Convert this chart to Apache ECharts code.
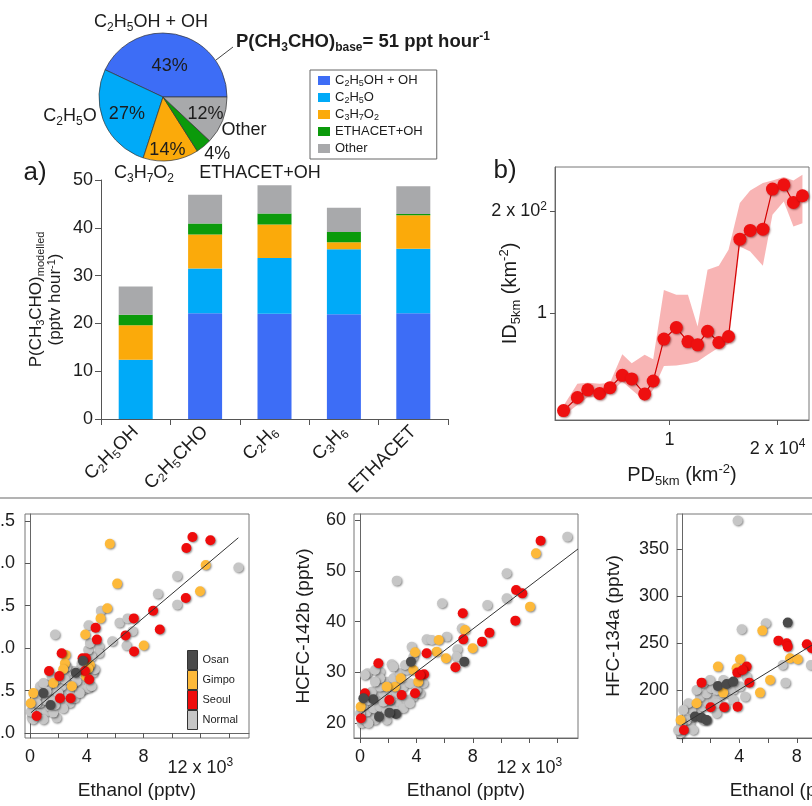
<!DOCTYPE html>
<html>
<head>
<meta charset="utf-8">
<script src="https://cdn.jsdelivr.net/npm/echarts@6.0.0/dist/echarts.min.js"></script>
<style>
html,body{margin:0;padding:0;background:#fff;}
#chart{width:812px;height:806px;}
</style>
</head>
<body>
<div id="chart"></div>
<script>
// ================= DATA =================
// Pie: contributions to base-case P(CH3CHO)
const pieNames = ['C2H5OH + OH', 'C2H5O', 'C3H7O2', 'ETHACET+OH', 'Other'];
const pieShares = [43, 27, 14, 4, 12];
const pBase = 51;

// a) stacked bars
const barCategories = ['C2H5OH', 'C2H5CHO', 'C2H6', 'C3H6', 'ETHACET'];
const barC2H5OH_OH = [0, 22.1, 22.0, 21.9, 22.1];
const barC2H5O = [12.4, 9.4, 11.7, 13.6, 13.5];
const barC3H7O2 = [7.2, 7.1, 7.0, 1.5, 7.0];
const barETHACET_OH = [2.2, 2.3, 2.3, 2.1, 0.3];
const barOther = [5.9, 6.0, 5.9, 5.1, 5.8];

// b) ID5km vs PD5km
const pd5km = [5060, 5530, 5910, 6380, 6820, 7380, 7840, 8520, 9000, 9640, 10440, 11250, 11970, 12760, 13720, 14600, 15700, 16780, 18200, 19360, 20820, 22150, 23470];
const id5km = [51.5, 56.3, 59.3, 57.9, 60.2, 65.5, 63.9, 57.7, 63.0, 83.8, 90.7, 82.4, 80.6, 88.4, 81.9, 85.3, 165.6, 175.7, 177.3, 232.9, 239.9, 212.7, 222.6];
const id5kmHigh = [53.2, 61.8, 62.3, 61.8, 62.3, 75.6, 71.1, 75.3, 73.1, 117.2, 113.3, 113.3, 91.3, 134.4, 138.1, 154.0, 211.7, 230.8, 242.7, 247.1, 252.8, 247.1, 256.9];
const id5kmLow = [49.7, 53.5, 56.4, 56.4, 58.0, 62.8, 59.3, 55.1, 59.3, 69.8, 70.0, 70.8, 71.9, 75.3, 79.1, 80.9, 157.6, 152.3, 138.1, 195.5, 214.1, 180.5, 184.7];
const bXTicks = [1e4, 2e4];
const bYTicks = [100, 200];

// c) left scatter (ethanol in 10^3 pptv)
const cNormal = [[14.67,1.95],[10.36,1.85],[10.36,1.51],[9.00,1.64],[6.30,1.30],[6.87,1.35],[7.22,1.20],[6.80,1.03],[5.79,1.08],[4.99,1.44],[4.12,1.27],[4.87,1.02],[4.87,0.94],[1.76,1.16],[4.34,0.90],
 [0.12,0.18],[0.35,0.24],[0.59,0.27],[0.23,0.31],[0.82,0.29],[1.17,0.25],[1.41,0.31],[1.87,0.18],[0.70,0.35],[1.05,0.39],[1.64,0.41],[2.11,0.35],[2.46,0.47],[2.81,0.51],[3.28,0.55],[3.51,0.59],[3.75,0.51],[4.10,0.53],[2.81,0.35],[2.23,0.55],[1.41,0.51],[1.87,0.63],[1.29,0.57],[2.69,0.67],[3.05,0.73],[3.51,0.75],[3.87,0.78],[4.10,0.73],[4.45,0.71],[3.28,0.61],[2.46,0.63],[0.70,0.55],[0.47,0.43],[0.94,0.59],[1.99,0.47],[1.52,0.67],[2.58,0.78],[3.63,0.82],[4.57,0.75],[0.23,0.16],[0.94,0.16],[1.64,0.24],[2.34,0.29],[3.16,0.41],[3.51,0.47],[4.34,0.55],[4.10,0.98],[4.22,1.06],[1.17,0.49],[1.76,0.33],[0.47,0.35],[0.05,0.25]];
const cGimpo = [[5.62,2.23],[6.14,1.76],[5.44,1.47],[4.97,1.35],[3.89,1.16],[8.01,1.03],[12.37,1.98],[11.97,1.67],[2.51,0.92],[2.46,0.82],[2.34,0.75],[4.22,0.80],[2.95,0.55],[0.23,0.47],[0.05,0.35],[1.64,0.59],[3.94,0.67],[4.10,0.76]];
const cSeoul = [[11.44,2.31],[12.70,2.27],[11.01,2.18],[10.97,1.59],[8.67,1.44],[9.14,1.22],[7.31,1.35],[6.73,1.15],[7.33,0.96],[4.62,1.24],[4.71,1.10],[2.23,0.94],[1.34,0.73],[2.06,0.67],[3.70,0.88],[3.94,0.88],[3.87,0.73],[4.17,0.63],[2.11,0.41],[2.86,0.41],[0.47,0.20]];
const cOsan = [[0.94,0.47],[1.45,0.33],[3.23,0.71],[3.73,0.85]];
const cFit = [[0.07,0.239],[14.67,2.30]];
const cYTicks = [0, 0.5, 1.0, 1.5, 2.0, 2.5];

// d) HCFC-142b vs ethanol
const dNormal = [[14.69,56.72],[10.39,49.51],[10.39,44.59],[9.02,43.28],[7.21,38.69],[6.14,37.05],[5.81,43.61],[2.60,48.07],[4.72,36.52],[5.08,36.39],[3.66,35.08],[6.90,34.56],[0.52,29.84],[2.24,31.61],[1.42,30.16],[6.85,33.1],[3.78,33.1],
 [0.12,20.0],[0.35,20.66],[0.71,21.31],[1.06,20.66],[1.42,21.64],[1.89,20.66],[0.47,22.30],[0.94,22.95],[1.42,23.28],[1.89,22.62],[2.36,23.28],[2.83,23.93],[3.31,24.59],[3.78,25.25],[4.25,25.90],[0.24,23.61],[0.59,24.59],[1.18,25.25],[1.65,25.90],[2.13,26.56],[2.60,25.90],[3.07,27.21],[3.54,27.87],[0.83,26.23],[1.42,27.21],[1.89,28.20],[2.36,28.85],[2.83,29.84],[3.31,30.49],[1.42,28.85],[1.06,28.20],[2.13,24.59],[2.60,22.30],[3.07,22.95],[3.54,23.93],[4.02,26.56],[4.49,27.87],[0.59,20.0],[0.0,21.97],[1.65,24.26],[0.35,29.5],[1.06,30.49],[2.36,31.15],[3.19,31.48]];
const dGimpo = [[12.47,53.44],[12.05,42.95],[7.44,38.36],[7.98,34.75],[6.09,32.79],[5.58,36.39],[5.43,34.10],[3.90,33.97],[3.78,30.49],[4.13,28.20],[2.48,27.21],[2.88,28.85],[0.05,23.28],[1.89,27.21]];
const dSeoul = [[12.80,55.93],[11.06,46.23],[11.50,45.57],[11.01,40.20],[7.28,41.64],[7.32,36.52],[9.17,37.84],[8.65,36.07],[6.76,31.02],[4.72,33.77],[4.54,29.64],[3.90,25.90],[2.95,25.57],[1.30,31.80],[0.07,20.98],[0.35,25.90],[2.08,24.59],[4.25,29.5]];
const dOsan = [[7.39,32.13],[3.61,32.13],[0.94,24.72],[1.35,21.31],[2.55,21.84],[2.08,22.10],[0.24,24.92]];
const dFit = [[0.07,21.83],[15.45,54.3]];
const dYTicks = [20, 30, 40, 50, 60];

// e) HFC-134a vs ethanol
const eNormal = [[3.88,380.6],[4.16,264.7],[5.84,271.1],[7.02,226.7],[7.21,207.8],[8.98,226.7],[3.35,200],
 [-0.09,153.8],[0.21,159.1],[0.56,164.5],[0.33,168.0],[0.79,171.6],[1.14,176.9],[0.67,178.7],[1.49,182.2],[1.84,185.8],[2.19,189.3],[2.65,192.9],[3.12,196.4],[3.58,200],[4.05,203.6],[1.26,192.9],[1.72,196.4],[2.07,201.8],[2.42,185.8],[1.49,207.1],[1.02,200],[0.44,185.8],[0.09,178.7],[-0.02,164.5],[-0.26,157.3],[0.79,157.3],[1.72,168.0],[2.42,175.1],[3.0,182.2],[3.58,189.3],[4.40,192.9],[4.51,214.2],[2.88,210.7],[1.95,210.7],[2.42,200],[1.49,168]];
const eGimpo = [[5.60,263.3],[7.53,233.8],[8.07,232.7],[6.14,210.7],[5.44,197.2],[4.05,232.7],[3.81,223.1],[2.51,224.9],[2.88,197.2],[1.02,185.8],[-0.09,168.0]];
const eSeoul = [[6.72,252.6],[7.30,249.8],[7.37,246.2],[8.70,248.7],[9.05,244.4],[4.70,207.8],[4.51,224.9],[3.86,218.5],[4.23,221.3],[3.88,182.2],[2.95,181.5],[2.0,181.5],[1.37,207.8],[0.14,157.3]];
const eOsan = [[7.37,271.8],[2.51,204.3],[3.12,206.4],[3.58,208.9],[0.91,171.6],[1.37,170.5],[1.72,168.0]];
const eFit = [[0.0,162.7],[15.0,303.7]];
const eYTicks = [200, 250, 300, 350];

const ethTicks = [0, 2, 4, 6, 8, 10, 12, 14];
const ethLabels = [0, 4, 8, 12];
const groupNames = ['Osan', 'Gimpo', 'Seoul', 'Normal'];

// ================= STYLE =================
const FF = '"Liberation Sans", Arial, Helvetica, sans-serif';
const TXT = '#1c1c1c';
const COLORS = ['#3d6df6', '#00aaf8', '#fbaa0a', '#0b9a0b', '#a8a9ab'];
const GROUP_COLORS = {Normal: '#c6c6c6', Seoul: '#ee0c0c', Gimpo: '#fdb93a', Osan: '#4a4a4a'};
const pieLabelShift = [[-1, 3], [-4, 3], [0, 18], [32, 30], [10, 4]];

function chem(s) { return s.replace(/([A-Z])(\d+)/g, '$1{s|$2}'); }
function R(fs, extra) {
  const o = {fontFamily: FF, color: TXT, fill: TXT, fontSize: Math.round(fs * 0.66), lineHeight: Math.round(fs * 0.75)};
  return {
    s: Object.assign({}, o, {verticalAlign: 'bottom'}, extra || {}),
    u: Object.assign({}, o, {verticalAlign: 'top'}, extra || {})
  };
}
function shiftedRich(fs, P) {
  return {
    e: {fontFamily: FF, color: TXT, fontSize: fs, lineHeight: 22, padding: [P, 0, 0, 0]},
    eu: {fontFamily: FF, color: TXT, fontSize: Math.round(fs * 0.66), lineHeight: 12, verticalAlign: 'top', padding: [Math.round(P / 2), 0, 0, 0]},
    n: {fontFamily: FF, color: TXT, fontSize: fs, lineHeight: 22},
    u: {fontFamily: FF, color: TXT, fontSize: Math.round(fs * 0.66), lineHeight: 12, verticalAlign: 'top'}
  };
}
function gText(x, y, text, fs, opts) {
  opts = opts || {};
  return {
    type: 'text', x: x, y: y, z: 50,
    style: Object.assign({
      text: text, fontSize: fs, fontFamily: FF, fill: TXT,
      lineHeight: Math.round(fs * 1.25),
      align: 'center', verticalAlign: 'middle',
      textAlign: 'center', textVerticalAlign: 'middle',
      rich: R(fs, opts.bold ? {fontWeight: 'bold'} : null)
    }, opts.style || {})
  };
}
const lg = v => Math.log10(v);

// ----- panel b transformed series -----
const bLine = pd5km.map((x, i) => [lg(x), lg(id5km[i])]);
const bLow = pd5km.map((x, i) => [lg(x), lg(id5kmLow[i])]);
const bHigh = pd5km.map((x, i) => [lg(x), lg(id5kmHigh[i])]);

// ----- axes helpers -----
const axisLineStyle = {show: true, lineStyle: {color: '#666', width: 1}};
function ethXAxis(gridIndex, hideZero) {
  return {
    type: 'value', gridIndex: gridIndex,
    axisLine: axisLineStyle,
    axisTick: {show: true, inside: false, length: 5, lineStyle: {color: '#555'}, customValues: ethTicks},
    axisLabel: {
      customValues: ethLabels, margin: 8, fontSize: 18, fontFamily: FF, color: TXT, lineHeight: 22,
      formatter: v => v === 12 ? '{e|12 x 10}{eu|3}' : (hideZero && v === 0 ? '' : '{n|' + v + '}'),
      rich: shiftedRich(18, 22)
    },
    splitLine: {show: false},
    name: 'Ethanol (pptv)', nameLocation: 'middle', nameGap: 43, nameMoveOverlap: false,
    nameTextStyle: {fontSize: 19, fontFamily: FF, color: TXT}
  };
}
function yValAxis(gridIndex, min, max, ticks, fmt, name, nameGap, margin) {
  return {
    type: 'value', gridIndex: gridIndex, min: min, max: max,
    axisLine: axisLineStyle,
    axisTick: {show: true, length: 5, lineStyle: {color: '#555'}, customValues: ticks},
    axisLabel: {customValues: ticks, margin: margin || 8, fontSize: 18, fontFamily: FF, color: TXT, formatter: fmt},
    splitLine: {show: false},
    name: name || '', nameLocation: 'middle', nameGap: nameGap || 40, nameMoveOverlap: false,
    nameTextStyle: {fontSize: 19, fontFamily: FF, color: TXT}
  };
}
function scat(idx, name, data) {
  return {
    type: 'scatter', name: name, xAxisIndex: idx, yAxisIndex: idx, data: data,
    symbol: 'circle', symbolSize: 10, z: 3,
    itemStyle: {color: GROUP_COLORS[name], opacity: 1, shadowColor: 'rgba(0,0,0,0.45)', shadowBlur: 2, shadowOffsetX: 1, shadowOffsetY: 1},
    emphasis: {disabled: true}
  };
}
function fitLine(idx, data) {
  return {type: 'line', xAxisIndex: idx, yAxisIndex: idx, data: data, symbol: 'none', z: 5,
    lineStyle: {color: '#333', width: 1}, emphasis: {disabled: true}, silent: true};
}

const barSeriesData = [barC2H5OH_OH, barC2H5O, barC3H7O2, barETHACET_OH, barOther];

const option = {
  animation: false,
  textStyle: {fontFamily: FF},
  color: COLORS,
  legend: [
    {
      data: pieNames, orient: 'vertical', left: 310, top: 70,
      padding: [3, 14, 3, 8], itemWidth: 12, itemHeight: 9, itemGap: 2,
      borderColor: '#666', borderWidth: 1, icon: 'rect', selectedMode: false,
      formatter: n => chem(n),
      itemStyle: {borderWidth: 0},
      textStyle: {fontSize: 13, fontFamily: FF, color: TXT, lineHeight: 15, rich: R(13)}
    },
    {
      data: groupNames, orient: 'vertical', left: 187, top: 650,
      padding: 0, itemWidth: 10, itemHeight: 19, itemGap: 0, icon: 'rect', selectedMode: false,
      itemStyle: {borderColor: '#333', borderWidth: 1, shadowBlur: 0, shadowOffsetX: 0, shadowOffsetY: 0, shadowColor: 'transparent'},
      textStyle: {fontSize: 11, fontFamily: FF, color: TXT}
    }
  ],
  grid: [
    {left: 101, top: 180, width: 347, height: 239, outerBoundsMode: 'none'},
    {left: 555, top: 167, width: 254, height: 253, show: true, borderColor: '#777', borderWidth: 1, backgroundColor: 'transparent', outerBoundsMode: 'none'},
    {left: 25, top: 514, width: 224, height: 224, show: true, borderColor: '#777', borderWidth: 1, backgroundColor: 'transparent', outerBoundsMode: 'none'},
    {left: 354, top: 514, width: 224, height: 224, show: true, borderColor: '#777', borderWidth: 1, backgroundColor: 'transparent', outerBoundsMode: 'none'},
    {left: 677, top: 514, width: 224, height: 224, show: true, borderColor: '#777', borderWidth: 1, backgroundColor: 'transparent', outerBoundsMode: 'none'}
  ],
  xAxis: [
    {
      type: 'category', gridIndex: 0, data: barCategories,
      axisLine: {show: true, lineStyle: {color: '#555', width: 1}},
      axisTick: {show: true, length: 6, alignWithLabel: false, lineStyle: {color: '#555'}},
      axisLabel: {interval: 0, rotate: 45, margin: 10, fontSize: 18.5, fontFamily: FF, color: TXT, lineHeight: 22,
        formatter: v => chem(v), rich: R(18.5)},
      splitLine: {show: false}
    },
    {
      type: 'value', gridIndex: 1, min: lg(4790), max: lg(24480),
      axisLine: axisLineStyle,
      axisTick: {show: true, length: 5, lineStyle: {color: '#555'}, customValues: bXTicks.map(lg)},
      axisLabel: {customValues: bXTicks.map(lg), margin: 9, fontSize: 18, fontFamily: FF, color: TXT, lineHeight: 22,
        formatter: v => Math.abs(v - 4) < 1e-6 ? '{n|1}' : '{e|2 x 10}{eu|4}', rich: shiftedRich(18, 18)},
      splitLine: {show: false},
      name: 'PD{s|5km} (km{u|-2})', nameLocation: 'middle', nameGap: 43, nameMoveOverlap: false,
      nameTextStyle: {fontSize: 20, fontFamily: FF, color: TXT, lineHeight: 25, rich: R(20)}
    },
    Object.assign(ethXAxis(2, false), {min: -0.35, max: 15.42}),
    Object.assign(ethXAxis(3, false), {min: -0.425, max: 15.45}),
    Object.assign(ethXAxis(4, true), {min: -0.34, max: 15.26})
  ],
  yAxis: [
    {
      type: 'value', gridIndex: 0, min: 0, max: 50, interval: 10,
      axisLine: {show: true, lineStyle: {color: '#555', width: 1}},
      axisTick: {show: true, length: 6, lineStyle: {color: '#555'}},
      axisLabel: {margin: 8, fontSize: 18, fontFamily: FF, color: TXT},
      splitLine: {show: false},
      name: 'P(CH{s|3}CHO){s|modelled}\n(pptv hour{u|-1})', nameLocation: 'middle', nameGap: 36, nameRotate: 90, nameMoveOverlap: false,
      nameTextStyle: {fontSize: 17, fontFamily: FF, color: TXT, lineHeight: 19, align: 'center', rich: R(17)}
    },
    {
      type: 'value', gridIndex: 1, min: 1.6839, max: 2.4326,
      axisLine: axisLineStyle,
      axisTick: {show: true, length: 5, lineStyle: {color: '#555'}, customValues: bYTicks.map(lg)},
      axisLabel: {customValues: bYTicks.map(lg), margin: 8, fontSize: 18, fontFamily: FF, color: TXT, lineHeight: 22,
        formatter: v => Math.abs(v - 2) < 1e-6 ? '{n|1}' : '{n|2 x 10}{u|2}', rich: shiftedRich(18, 0)},
      splitLine: {show: false},
      name: 'ID{s|5km} (km{u|-2})', nameLocation: 'middle', nameGap: 32, nameRotate: 90, nameMoveOverlap: false,
      nameTextStyle: {fontSize: 20, fontFamily: FF, color: TXT, lineHeight: 25, rich: R(20)}
    },
    yValAxis(2, -0.059, 2.58, cYTicks, v => v.toFixed(1), '', 40, 10),
    yValAxis(3, 17.11, 61.18, dYTicks, v => String(v), 'HCFC-142b (pptv)', 41),
    yValAxis(4, 148.8, 387.6, eYTicks, v => String(v), 'HFC-134a (pptv)', 54)
  ],
  series: [
    {
      type: 'pie', name: 'base', center: [163, 97], radius: 64, startAngle: 0, clockwise: false,
      data: pieNames.map((n, i) => ({name: n, value: pieShares[i], itemStyle: {color: COLORS[i]}})),
      itemStyle: {borderColor: '#333', borderWidth: 0.7},
      label: {show: true, position: 'inside', formatter: p => p.value + '%', fontSize: 18, fontFamily: FF, color: TXT},
      labelLine: {show: false},
      labelLayout: p => ({dx: pieLabelShift[p.dataIndex][0], dy: pieLabelShift[p.dataIndex][1]}),
      emphasis: {disabled: true}, silent: true
    }
  ].concat(pieNames.map((n, i) => ({
    type: 'bar', name: n, xAxisIndex: 0, yAxisIndex: 0, stack: 'p', barWidth: 34,
    data: barSeriesData[i], itemStyle: {color: COLORS[i]}, emphasis: {disabled: true}
  }))).concat([
    {
      type: 'custom', xAxisIndex: 1, yAxisIndex: 1, data: [bLine[0]], clip: true, silent: true, z: 1,
      renderItem: (params, api) => {
        const pts = bHigh.map(p => api.coord(p)).concat(bLow.slice().reverse().map(p => api.coord(p)));
        return {type: 'polygon', shape: {points: pts}, style: {fill: 'rgba(242,118,118,0.55)', stroke: 'none'}};
      }
    },
    {type: 'line', name: 'ID5km', xAxisIndex: 1, yAxisIndex: 1, data: bLine, symbol: 'circle', symbolSize: 13, z: 4,
      lineStyle: {color: '#d40000', width: 1.2},
      itemStyle: {color: '#ee1010', shadowColor: 'rgba(90,0,0,0.5)', shadowBlur: 2, shadowOffsetX: 1, shadowOffsetY: 1},
      emphasis: {disabled: true}},
    scat(2, 'Normal', cNormal), scat(2, 'Gimpo', cGimpo), scat(2, 'Seoul', cSeoul), scat(2, 'Osan', cOsan), fitLine(2, cFit),
    scat(3, 'Normal', dNormal), scat(3, 'Gimpo', dGimpo), scat(3, 'Seoul', dSeoul), scat(3, 'Osan', dOsan), fitLine(3, dFit),
    scat(4, 'Normal', eNormal), scat(4, 'Gimpo', eGimpo), scat(4, 'Seoul', eSeoul), scat(4, 'Osan', eOsan), fitLine(4, eFit)
  ]),
  graphic: [
    {type: 'line', shape: {x1: 0, y1: 498, x2: 812, y2: 498}, style: {stroke: '#9a9a9a', lineWidth: 1.5}, z: 50},
    {type: 'line', shape: {x1: 216, y1: 60, x2: 233, y2: 47}, style: {stroke: '#444', lineWidth: 1}, z: 50},
    gText(151, 22, chem(pieNames[0]), 18),
    gText(70, 116, chem(pieNames[1]), 18),
    gText(244, 130, pieNames[4], 18),
    gText(144, 173, chem(pieNames[2]), 18),
    gText(260, 173, pieNames[3], 18),
    gText(236, 42, 'P(CH{s|3}CHO){s|base}= ' + pBase + ' ppt hour{u|-1}', 18.5,
      {bold: true, style: {fontWeight: 'bold', align: 'left', textAlign: 'left'}}),
    gText(35, 173, 'a)', 26),
    gText(505, 171, 'b)', 26)
  ]
};

const chart = echarts.init(document.getElementById('chart'), null, {renderer: 'canvas'});
chart.setOption(option);
</script>
</body>
</html>
